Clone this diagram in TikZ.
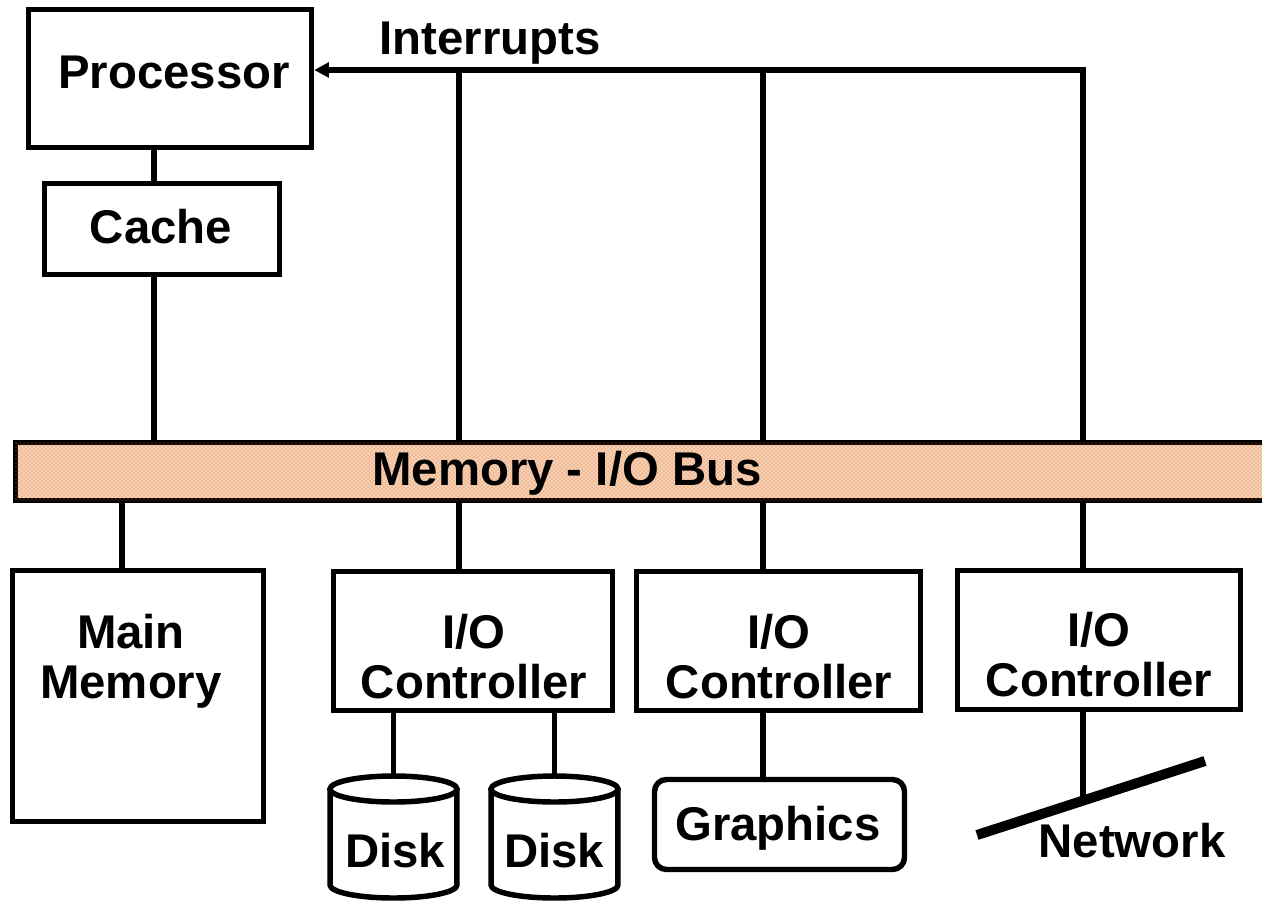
\documentclass[tikz,border=0pt]{standalone}
\usepackage{fontspec}
\setmainfont{Liberation Sans}
\usetikzlibrary{arrows.meta,patterns}
\definecolor{busfill}{RGB}{246,210,182}
\definecolor{busdot}{RGB}{228,105,35}
\begin{document}
\begin{tikzpicture}[x=0.75pt,y=-0.75pt]
    \tikzstyle{box}=[draw, line width=4.1pt, inner sep=0pt]
    \tikzstyle{txt}=[font=\fontsize{35.5}{37.5}\selectfont\bfseries, inner sep=0pt, anchor=base, align=center]
    \tikzstyle{wire}=[line width=4.1pt]
    \tikzstyle{bus}=[box, fill=busfill, postaction={pattern=crosshatch dots, pattern color=busdot}]

    \clip (0,0) rectangle (1262,903);

    % boxes
    \node[box, minimum width=212.25pt, minimum height=103.5pt] (proc) at (170,78.5) {};
    \node[box, minimum width=176.25pt, minimum height=68.25pt] (cache) at (162,229) {};
    \node[bus, minimum width=975pt, minimum height=43.5pt, anchor=west] (bus) at (12.5,471.5) {};
    \node[box, minimum width=188.25pt, minimum height=188.25pt] (mem) at (138,696) {};
    \node[box, minimum width=209.25pt, minimum height=104.25pt] (ctl1) at (473,641) {};
    \node[box, minimum width=213pt, minimum height=104.25pt] (ctl2) at (778.5,641) {};
    \node[box, minimum width=212.25pt, minimum height=104.25pt] (ctl3) at (1099,640) {};
    \node[box, rounded corners=9pt, minimum width=187.5pt, minimum height=67.5pt] (gfx) at (779.5,824.5) {};

    % texts
    \node[txt] (proctxt) at (174,88) {Processor};
    \node[txt] (cachetxt) at (161,243) {Cache};
    \node[txt] (inttxt) at (490,54) {Interrupts};
    \node[txt] (bustxt) at (567,485) {Memory - I/O Bus};
    \node[txt] (memtxt) at (131,698) {Main\\Memory};
    \node[txt] (ctl1txt) at (474,698) {I/O\\Controller};
    \node[txt] (ctl2txt) at (779,698) {I/O\\Controller};
    \node[txt] (ctl3txt) at (1099,696) {I/O\\Controller};
    \node[txt] (gfxtxt) at (778,840) {Graphics};
    \node[txt] (disk1) at (395,867) {Disk};
    \node[txt] (disk2) at (554,867) {Disk};
    \node[txt] (nettxt) at (1132,857) {Network};

    % wire positions
    \coordinate (xa) at (154,0);
    \coordinate (xm) at (122,0);
    \coordinate (irq1) at (459,70);
    \coordinate (irq2) at (763,70);
    \coordinate (irq3) at (1083,70);

    % disks
    \coordinate (d1top) at (393.5,776);
    \coordinate (d1) at (393.5,789);
    \coordinate (d2top) at (554.5,776);
    \coordinate (d2) at (554.5,789);
    \draw[wire] (d1) ellipse [x radius=47.6pt, y radius=9.75pt];
    \draw[wire] ([xshift=-47.6pt]d1) -- ++(0,96) arc[start angle=180, end angle=360, x radius=47.6pt, y radius=9.75pt] -- ([xshift=47.6pt]d1);
    \draw[wire] (d2) ellipse [x radius=47.6pt, y radius=9.75pt];
    \draw[wire] ([xshift=-47.6pt]d2) -- ++(0,96) arc[start angle=180, end angle=360, x radius=47.6pt, y radius=9.75pt] -- ([xshift=47.6pt]d2);

    % network
    \coordinate (netA) at (977,835);
    \coordinate (netB) at (1205,761);
    \draw[line width=7.5pt] (netA) -- coordinate[pos=0.465] (tap) (netB);

    % connectors
    \draw[wire] (proc.south -| xa) -- (cache.north -| xa);
    \draw[wire] (cache.south -| xa) -- (bus.north -| xa);
    \draw[wire] (bus.north -| irq1) -- (irq1);
    \draw[wire] (bus.north -| irq2) -- (irq2);
    \draw[wire, -{Triangle[length=11pt,width=11pt]}] (bus.north -| irq3) -- (irq3) -- (proc.east |- irq3);
    \draw[wire] (bus.south -| xm) -- (mem.north -| xm);
    \draw[wire] (bus.south -| irq1) -- (ctl1.north -| irq1);
    \draw[wire] (bus.south -| irq2) -- (ctl2.north -| irq2);
    \draw[wire] (bus.south -| irq3) -- (ctl3.north -| irq3);
    \draw[wire] (ctl1.south -| d1top) -- (d1top);
    \draw[wire] (ctl1.south -| d2top) -- (d2top);
    \draw[wire] (ctl2.south -| irq2) -- (gfx.north -| irq2);
    \draw[wire] (ctl3.south -| tap) -- (tap);
\end{tikzpicture}
\end{document}
